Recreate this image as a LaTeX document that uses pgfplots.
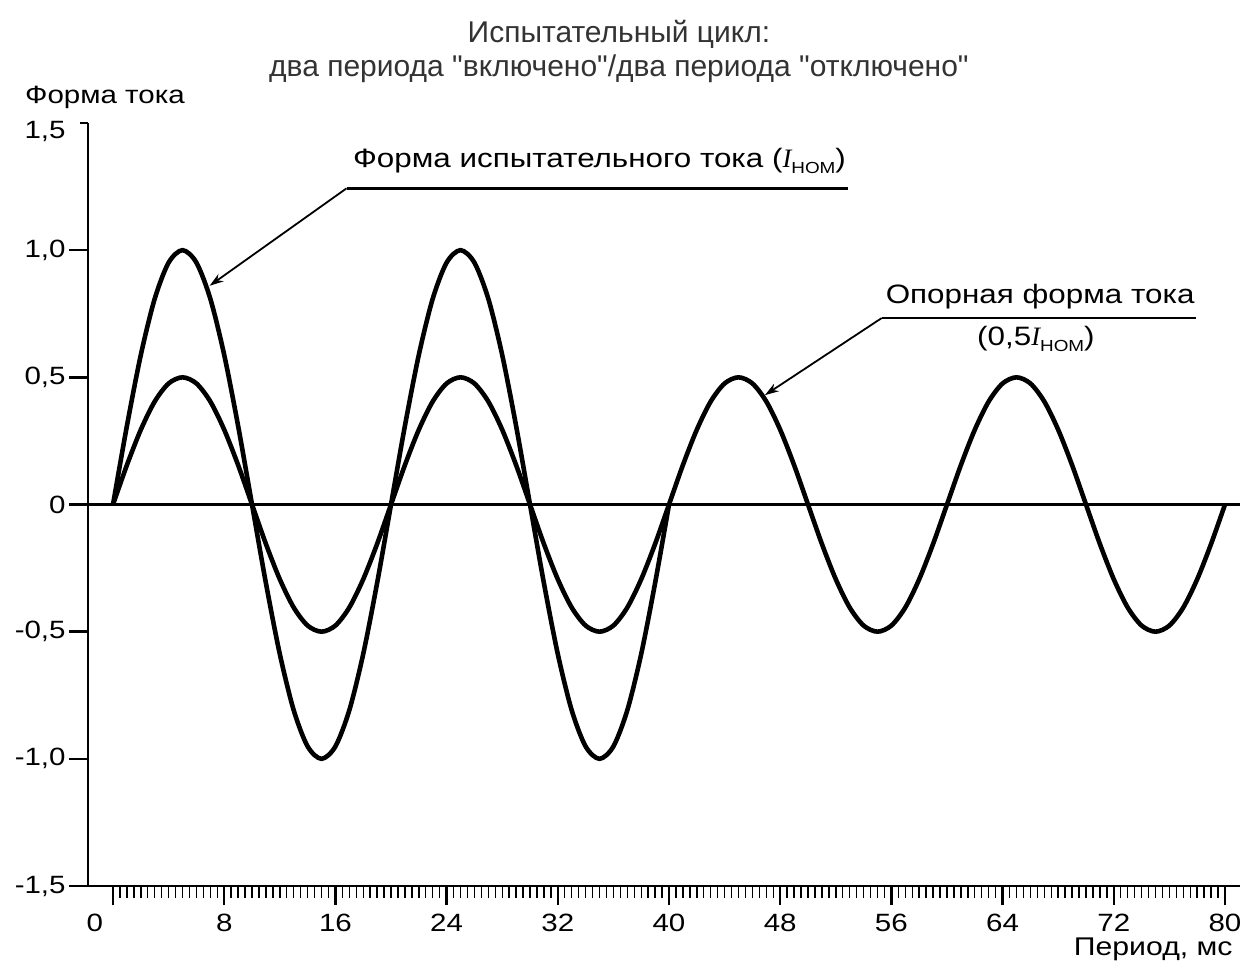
\documentclass[border=0pt]{standalone}
\usepackage{fontspec}
\setmainfont{Liberation Sans}
\newfontfamily\wide[FakeStretch=1.18]{Liberation Sans}
\newfontfamily\titlef[Ligatures=ResetAll]{Liberation Sans}
\newfontfamily\timesf{Liberation Serif}
\usepackage{pgfplots}
\pgfplotsset{compat=1.18}
\usepackage{pgfplotstable}
\usetikzlibrary{arrows.meta}

\newcommand{\Inom}{{\timesf\itshape I}\raisebox{-3pt}{\fontsize{8}{9}\selectfont НОМ}}

% test current waveform (I_nom), two periods "on"
\pgfplotstableread{
t v
0 0
1 0.309
2 0.588
3 0.809
4 0.951
5 1.0
6 0.951
7 0.809
8 0.588
9 0.309
10 0
11 -0.309
12 -0.588
13 -0.809
14 -0.951
15 -1.0
16 -0.951
17 -0.809
18 -0.588
19 -0.309
20 0
21 0.309
22 0.588
23 0.809
24 0.951
25 1.0
26 0.951
27 0.809
28 0.588
29 0.309
30 0
31 -0.309
32 -0.588
33 -0.809
34 -0.951
35 -1.0
36 -0.951
37 -0.809
38 -0.588
39 -0.309
40 0
}\testdata

% reference current waveform (0.5 I_nom)
\pgfplotstableread{
t v
0 0
1 0.155
2 0.294
3 0.405
4 0.476
5 0.5
6 0.476
7 0.405
8 0.294
9 0.155
10 0
11 -0.155
12 -0.294
13 -0.405
14 -0.476
15 -0.5
16 -0.476
17 -0.405
18 -0.294
19 -0.155
20 0
21 0.155
22 0.294
23 0.405
24 0.476
25 0.5
26 0.476
27 0.405
28 0.294
29 0.155
30 0
31 -0.155
32 -0.294
33 -0.405
34 -0.476
35 -0.5
36 -0.476
37 -0.405
38 -0.294
39 -0.155
40 0
41 0.155
42 0.294
43 0.405
44 0.476
45 0.5
46 0.476
47 0.405
48 0.294
49 0.155
50 0
51 -0.155
52 -0.294
53 -0.405
54 -0.476
55 -0.5
56 -0.476
57 -0.405
58 -0.294
59 -0.155
60 0
61 0.155
62 0.294
63 0.405
64 0.476
65 0.5
66 0.476
67 0.405
68 0.294
69 0.155
70 0
71 -0.155
72 -0.294
73 -0.405
74 -0.476
75 -0.5
76 -0.476
77 -0.405
78 -0.294
79 -0.155
80 0
}\refdata

\begin{document}
\begin{tikzpicture}
\useasboundingbox (-44pt,-42pt) rectangle (578pt,443pt);
\begin{axis}[
  at={(0,0)}, anchor=south west,
  scale only axis, width=576pt, height=381.5pt,
  xmin=-1.8, xmax=81.08, ymin=-1.5, ymax=1.5,
  axis x line=bottom, axis y line=left,
  axis line style={-, line width=1.4pt},
  tick align=outside,
  major tick length=9.5pt, minor tick length=6pt,
  major tick style={line width=1.2pt, black},
  minor tick style={line width=0.7pt, black},
  xtick={0,8,...,80},
  xticklabels={{\makebox[0pt][r]{0\hspace{5pt}}},8,16,24,32,40,48,56,64,72,80},
  minor x tick num=15,
  ytick={-1.5,-1,-0.5,0,0.5,1},
  yticklabels={{-1,5},{-1,0},{-0,5},0,{0,5},{1,0}},
  extra y ticks={1.5}, extra y tick labels={1{,}5},
  extra y tick style={major tick length=4pt, yticklabel style={xshift=-5.5pt, yshift=-4pt}},
  tick label style={font=\wide\fontsize{12.5}{15}\selectfont},
  yticklabel style={inner xsep=1.5pt},
  xticklabel style={inner ysep=4.5pt},
  clip=false,
]
\addplot[black, line width=1.4pt] coordinates {(-1.8,0) (81.08,0)};
\addplot[black, line width=2.3pt, smooth] table[x=t,y=v] {\testdata};
\addplot[black, line width=2.3pt, smooth] table[x=t,y=v] {\refdata};

% titles
\node[anchor=base, text=black!80, font=\titlef\fontsize{15}{17}\selectfont] at (axis cs:36.4,1.816) {Испытательный цикл:};
\node[anchor=base, text=black!80, font=\titlef\fontsize{15}{17}\selectfont] at (axis cs:36.4,1.682) {два периода "включено"/два периода "отключено"};
% axis labels
\node[anchor=base, font=\wide\fontsize{12.5}{15}\selectfont] at (axis cs:-0.58,1.576) {Форма тока};
\node[anchor=base east, font=\wide\fontsize{12.8}{15}\selectfont] at (axis cs:81.05,-1.773) {Период, мс};

% annotation 1
\draw[line width=1.3pt] (axis cs:16.8,1.243) -- (axis cs:52.9,1.243);
\draw[line width=0.9pt, -{Stealth[length=7pt,width=4.5pt]}] (axis cs:16.8,1.243) -- (axis cs:6.95,0.86);
\node[anchor=base, font=\wide\fontsize{13.3}{15}\selectfont] at (axis cs:35.0,1.325) {Форма испытательного тока (\Inom)};

% annotation 2
\draw[line width=1.3pt] (axis cs:55.3,0.733) -- (axis cs:77.9,0.733);
\draw[line width=0.9pt, -{Stealth[length=7pt,width=4.5pt]}] (axis cs:55.3,0.733) -- (axis cs:46.9,0.43);
\node[anchor=base, font=\wide\fontsize{13.3}{15}\selectfont] at (axis cs:66.7,0.792) {Опорная форма тока};
\node[anchor=base, font=\wide\fontsize{13.3}{15}\selectfont] at (axis cs:66.4,0.627) {(0,5\Inom)};
\end{axis}
\end{tikzpicture}
\end{document}
